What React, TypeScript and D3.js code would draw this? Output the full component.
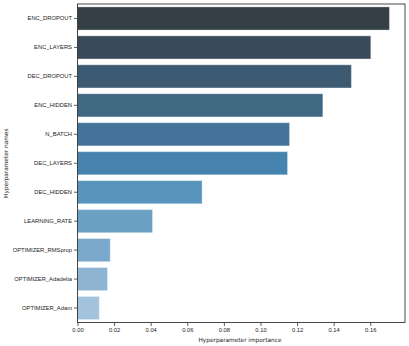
import {useEffect, useRef} from "react";
import * as d3 from "d3";

const names = [
	"ENC_DROPOUT",
	"ENC_LAYERS",
	"DEC_DROPOUT",
	"ENC_HIDDEN",
	"N_BATCH",
	"DEC_LAYERS",
	"DEC_HIDDEN",
	"LEARNING_RATE",
	"OPTIMIZER_RMSprop",
	"OPTIMIZER_Adadelta",
	"OPTIMIZER_Adam",
];
const importance = [0.1705, 0.1603, 0.1497, 0.1341, 0.1159, 0.1148, 0.0681, 0.041, 0.0179, 0.0164, 0.0119];
const colors = [
	"#353f46", "#394b5a", "#3c5a71", "#406883", "#43729a", "#4683ae",
	"#5894bb", "#6c9fc4", "#7ba9cc", "#8fb4d2", "#a3c3dc",
];
const xTicks = [0, 0.02, 0.04, 0.06, 0.08, 0.1, 0.12, 0.14, 0.16];

const App = () => {
	const svgRef = useRef<SVGSVGElement>(null);

	useEffect(() => {
		const width = 409;
		const height = 346;
		const marginTop = 4;
		const marginBottom = 23.5;
		const marginLeft = 77.5;
		const marginRight = 4;
		const fontSize = 5.8;

		const data = names.map((n, i) => ({name: n, value: importance[i], color: colors[i]}));

		const x = d3.scaleLinear().domain([0, 0.179]).range([marginLeft, width - marginRight]);
		const y = d3
			.scaleBand()
			.domain(names)
			.range([marginTop, height - marginBottom])
			.paddingInner(0.2)
			.paddingOuter(0.1);

		const svg = d3
			.select(svgRef.current)
			.attr("width", width)
			.attr("height", height)
			.attr("viewBox", [0, 0, width, height])
			.style("display", "block")
			.style("font-family", "DejaVu Sans");

		svg.selectAll("*").remove();

		svg.append("rect").attr("width", width).attr("height", height).attr("fill", "#fff");

		// bars
		svg.selectAll(".bar")
			.data(data)
			.enter()
			.append("rect")
			.attr("class", "bar")
			.attr("x", x(0))
			.attr("y", (d) => y(d.name)!)
			.attr("width", (d) => x(d.value) - x(0))
			.attr("height", y.bandwidth())
			.attr("fill", (d) => d.color)
			.attr("stroke", "#ffffff")
			.attr("stroke-opacity", 0.35)
			.attr("stroke-width", 1);

		// x axis
		const xAxis = svg
			.append("g")
			.attr("transform", `translate(0,${height - marginBottom})`)
			.call(
				d3
					.axisBottom(x)
					.tickValues(xTicks)
					.tickFormat(d3.format(".2f"))
					.tickSize(3.5)
					.tickSizeOuter(0)
			);
		xAxis.select(".domain").remove();
		xAxis.selectAll("text").attr("font-size", fontSize).attr("fill", "#222").attr("dy", "0.75em").attr("y", 5.5);
		xAxis.selectAll("line").attr("stroke", "#333").attr("stroke-width", 0.8);

		// y axis
		const yAxis = svg
			.append("g")
			.attr("transform", `translate(${marginLeft},0)`)
			.call(d3.axisLeft(y).tickSize(3.5).tickSizeOuter(0));
		yAxis.select(".domain").remove();
		yAxis.selectAll("text").attr("font-size", fontSize).attr("fill", "#222").attr("x", -5.5);
		yAxis.selectAll("line").attr("stroke", "#333").attr("stroke-width", 0.8);

		// frame
		svg.append("rect")
			.attr("x", marginLeft)
			.attr("y", marginTop)
			.attr("width", width - marginRight - marginLeft)
			.attr("height", height - marginBottom - marginTop)
			.attr("fill", "none")
			.attr("stroke", "#333")
			.attr("stroke-width", 0.9);

		// axis labels
		svg.append("text")
			.attr("x", 240)
			.attr("y", 342)
			.attr("text-anchor", "middle")
			.attr("font-size", fontSize)
			.attr("fill", "#222")
			.text("Hyperparameter importance");

		svg.append("text")
			.attr("transform", `translate(8,${(marginTop + height - marginBottom) / 2}) rotate(-90)`)
			.attr("text-anchor", "middle")
			.attr("font-size", fontSize)
			.attr("fill", "#222")
			.text("Hyperparameter names");
	}, []);

	return (
		<div style={{position: "absolute", left: 0, top: 0}}>
			<svg ref={svgRef}></svg>
		</div>
	);
};

export default App;
